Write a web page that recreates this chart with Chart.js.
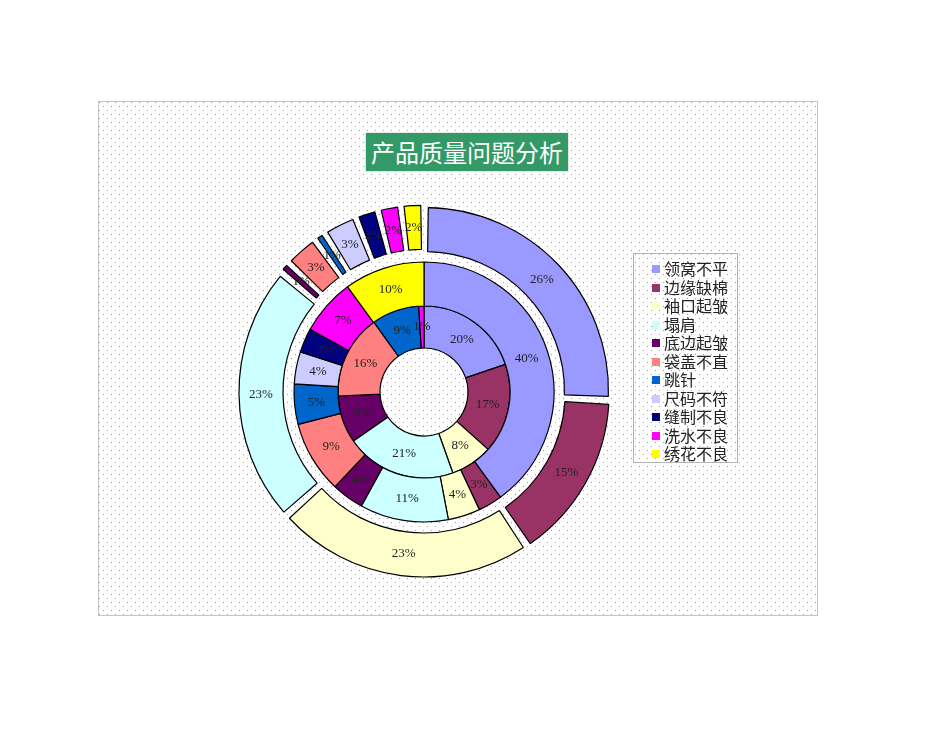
<!DOCTYPE html>
<html>
<head>
<meta charset="utf-8">
<script src="https://cdn.jsdelivr.net/npm/chart.js@4.4.1/dist/chart.umd.min.js"></script>
<style>
  body { margin: 0; background: #fff; width: 950px; height: 735px; overflow: hidden; }
  #frame { position: absolute; left: 98px; top: 101px; width: 718px; height: 513px; border: 1px solid #c4c4c4; }
  #frame canvas { position: absolute; left: 0; top: 0; }
  #title {
    position: absolute; left: 366px; top: 133px; width: 202px; height: 38px;
    background: #339966; color: #fff; outline: 1px solid #e6e6e6;
    font: 24px "Noto Sans CJK SC", sans-serif; line-height: 38px; text-align: center;
  }
  #legend {
    position: absolute; left: 633px; top: 253px; width: 105px; height: 210px;
    border: 1px solid #b4b4b4; padding-top: 5px; box-sizing: border-box;
    font: 16px "Noto Sans CJK SC", sans-serif; color: #222;
  }
  #legend .item { height: 18.5px; line-height: 18.5px; padding-left: 18px; white-space: nowrap; }
  #legend .swatch { display: inline-block; width: 8px; height: 8px; margin-right: 4px; vertical-align: 2px; }
</style>
</head>
<body>
<div id="frame"><canvas id="qualityChart" width="718" height="513"></canvas></div>
<div id="title">产品质量问题分析</div>
<div id="legend"></div>
<script>
// Categories and colours (Excel default palette)
const CATEGORIES = ['领窝不平', '边缘缺棉', '袖口起皱', '塌肩', '底边起皱', '袋盖不直', '跳针', '尺码不符', '缝制不良', '洗水不良', '绣花不良'];
const COLORS = ['#9999FF', '#993366', '#FFFFCC', '#CCFFFF', '#660066', '#FF8080', '#0066CC', '#CCCCFF', '#000080', '#FF00FF', '#FFFF00'];

// Ring values (percent shares), outer -> inner
const OUTER_VALUES = [26, 15, 23, 23, 1, 3, 1, 3, 2, 2, 2];
const MIDDLE_VALUES = [40, 3, 4, 11, 4, 9, 5, 4, 3, 7, 10];
const INNER_VALUES = [20, 17, 8, 21, 9, 16, 9, 0, 0, 1, 0];

// Dotted plot background
function dotPattern() {
    const c = document.createElement('canvas');
    c.width = 8; c.height = 8;
    const g = c.getContext('2d');
    g.fillStyle = '#9a9a9a';
    g.fillRect(0, 0, 1, 1);
    g.fillRect(4, 4, 1, 1);
    return c.toDataURL();
}
document.getElementById('frame').style.backgroundImage = `url(${dotPattern()})`;

// Legend
const legendEl = document.getElementById('legend');
CATEGORIES.forEach((name, i) => {
    const row = document.createElement('div');
    row.className = 'item';
    row.innerHTML = `<span class="swatch" style="background:${COLORS[i]}"></span>${name}`;
    legendEl.appendChild(row);
});

// Exploded outer ring: pull it away from the middle ring and trim each slice
const ringPlugin = {
    id: 'ringLook',
    beforeDatasetDraw(chart, args, opts) {
        if (args.index !== 0) return;
        args.meta.data.forEach(arc => {
            arc.$keep = [arc.startAngle, arc.endAngle, arc.innerRadius];
            const mid = (arc.innerRadius + opts.ringGap + arc.outerRadius) / 2;
            const trim = opts.sliceGap / 2 / mid;
            if (arc.endAngle - arc.startAngle > 2 * trim + 0.004) {
                arc.startAngle += trim;
                arc.endAngle -= trim;
            }
            arc.innerRadius += opts.ringGap;
        });
    },
    afterDatasetDraw(chart, args) {
        if (args.index !== 0) return;
        args.meta.data.forEach(arc => {
            [arc.startAngle, arc.endAngle, arc.innerRadius] = arc.$keep;
        });
    },
    // Percentage labels in every slice
    afterDatasetsDraw(chart, args, opts) {
        const ctx = chart.ctx;
        ctx.save();
        ctx.font = '13px "Liberation Serif", serif';
        ctx.fillStyle = '#222';
        ctx.textAlign = 'center';
        ctx.textBaseline = 'middle';
        chart.data.datasets.forEach((ds, di) => {
            const meta = chart.getDatasetMeta(di);
            const total = ds.data.reduce((a, b) => a + b, 0);
            meta.data.forEach((arc, i) => {
                const v = ds.data[i];
                if (!v) return;
                const ang = (arc.startAngle + arc.endAngle) / 2;
                let r = (arc.innerRadius + arc.outerRadius) / 2;
                if (di === 0) {
                    const push = (ds.offset || 0) / 4;
                    const fix = 1 - Math.sin(Math.min(Math.PI, arc.circumference));
                    r += opts.ringGap / 2 + push + push * fix;
                }
                ctx.fillText(Math.round(v / total * 100) + '%', arc.x + Math.cos(ang) * r, arc.y + Math.sin(ang) * r);
            });
        });
        ctx.restore();
    }
};

const ctx = document.getElementById('qualityChart').getContext('2d');
const chart = new Chart(ctx, {
    type: 'doughnut',
    data: {
        labels: CATEGORIES,
        datasets: [
            { label: '外圈', data: OUTER_VALUES, backgroundColor: COLORS, weight: 53, offset: 8 },
            { label: '中圈', data: MIDDLE_VALUES, backgroundColor: COLORS, weight: 44 },
            { label: '内圈', data: INNER_VALUES, backgroundColor: COLORS, weight: 42 }
        ]
    },
    options: {
        responsive: false,
        animation: false,
        radius: 183,
        cutout: '24.04%',
        layout: { padding: { left: 100, right: 168, top: 100, bottom: 33 } },
        elements: { arc: { borderColor: '#000', borderWidth: 1.2 } },
        plugins: {
            legend: { display: false },
            tooltip: { enabled: false },
            ringLook: { ringGap: 9, sliceGap: 5 }
        }
    },
    plugins: [ringPlugin]
});
</script>
</body>
</html>
